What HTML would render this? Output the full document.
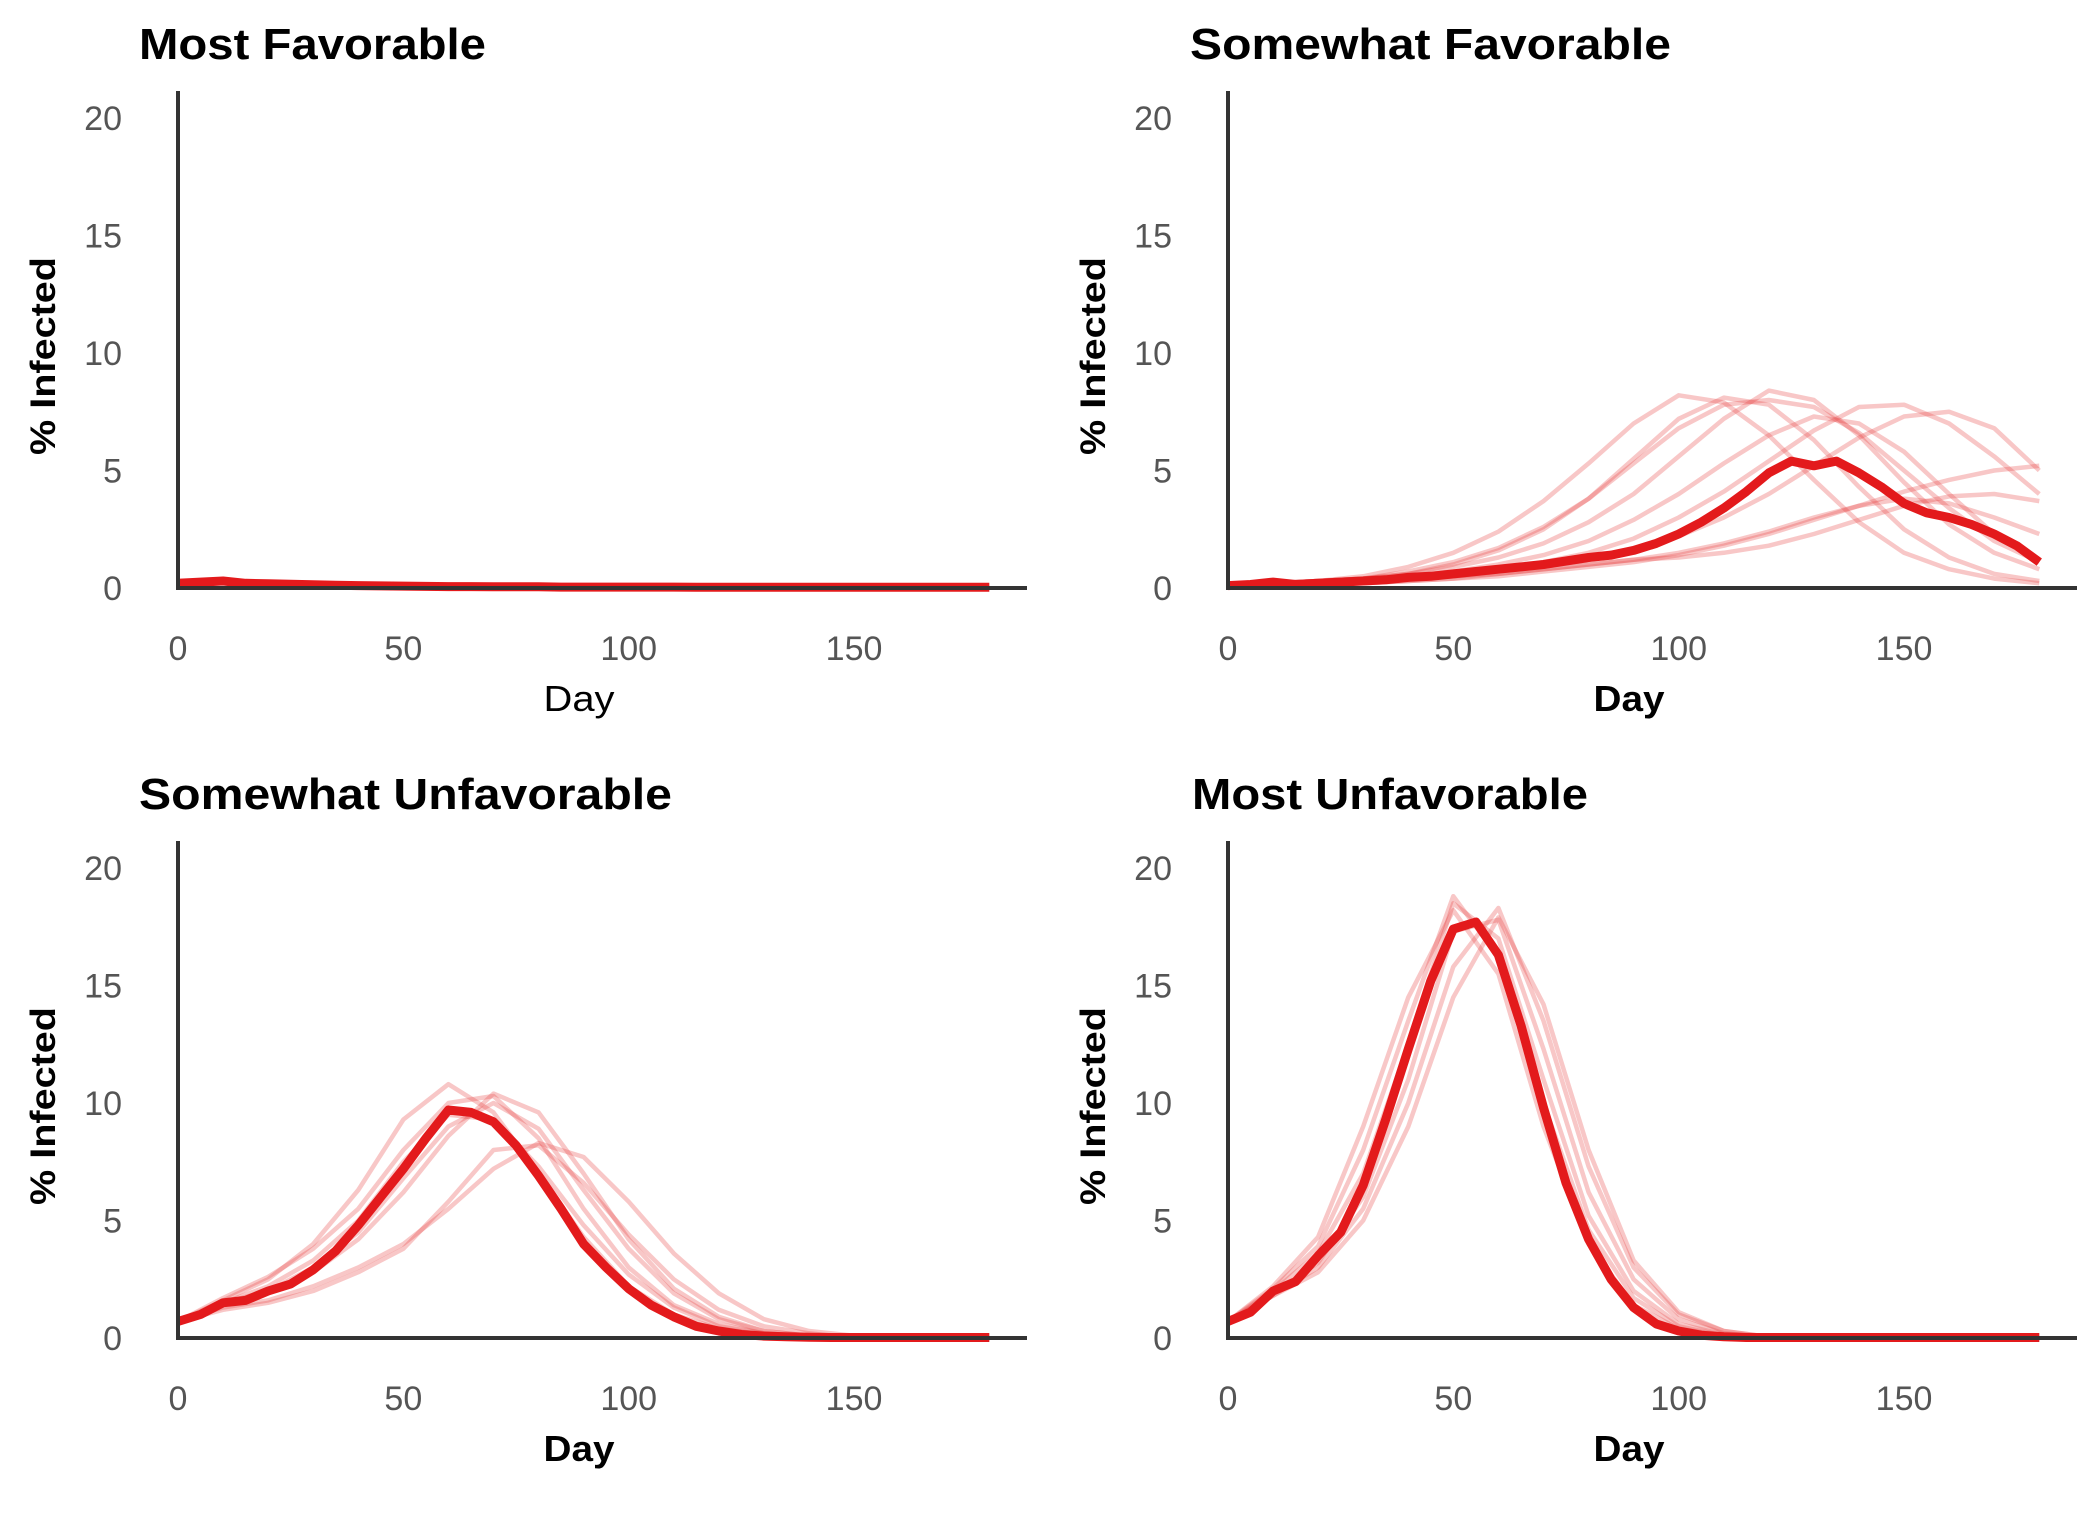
<!DOCTYPE html>
<html><head><meta charset="utf-8"><style>
html,body{margin:0;padding:0;background:#fff;}
svg{display:block;}
text{font-family:"Liberation Sans Narrow","Liberation Sans",sans-serif;}
</style></head>
<body>
<svg id="chart" width="2100" height="1520" viewBox="0 0 2100 1520" xmlns="http://www.w3.org/2000/svg"></svg>
<script>
// ---- data ----
const days5 = [0,5,10,15,20,25,30,35,40,45,50,55,60,65,70,75,80,85,90,95,100,105,110,115,120,125,130,135,140,145,150,155,160,165,170,175,180];
const days10 = [0,10,20,30,40,50,60,70,80,90,100,110,120,130,140,150,160,170,180];
const yTicks = [0,5,10,15,20];
const xTicks = [0,50,100,150];
const panelTitles = ["Most Favorable","Somewhat Favorable","Somewhat Unfavorable","Most Unfavorable"];

const meanMF = [0.2,0.25,0.3,0.2,0.18,0.16,0.14,0.12,0.1,0.09,0.08,0.07,0.06,0.06,0.05,0.05,0.05,0.04,0.04,0.04,0.04,0.04,0.04,0.03,0.03,0.03,0.03,0.03,0.03,0.03,0.03,0.03,0.03,0.03,0.03,0.03,0.03];
const runsMF = [
 [0.2,0.25,0.2,0.15,0.12,0.1,0.08,0.08,0.1,0.08,0.06,0.08,0.12,0.1,0.08,0.06,0.05,0.05,0.04],
 [0.2,0.3,0.22,0.15,0.1,0.08,0.06,0.05,0.04,0.05,0.06,0.05,0.04,0.04,0.03,0.03,0.03,0.03,0.03]
];
const meanSF = [0.1,0.15,0.25,0.15,0.2,0.25,0.3,0.35,0.45,0.5,0.6,0.7,0.8,0.9,1.0,1.15,1.3,1.4,1.6,1.9,2.3,2.8,3.4,4.1,4.9,5.4,5.2,5.4,4.9,4.3,3.6,3.2,3.0,2.7,2.3,1.8,1.1];
const runsSF = [
 [0.1,0.2,0.3,0.5,0.9,1.5,2.4,3.7,5.3,7.0,8.2,7.9,6.5,4.6,2.8,1.5,0.8,0.4,0.2],
 [0.1,0.2,0.3,0.4,0.6,0.9,1.3,1.9,2.8,4.0,5.6,7.2,8.4,8.0,6.5,4.5,2.7,1.5,0.8],
 [0.1,0.2,0.3,0.4,0.7,1.1,1.7,2.6,3.8,5.3,6.8,7.8,8.0,7.7,6.6,5.0,3.4,2.0,1.1],
 [0.1,0.2,0.2,0.3,0.4,0.6,0.8,1.1,1.5,2.1,3.0,4.1,5.4,6.7,7.7,7.8,7.0,5.6,4.0],
 [0.1,0.1,0.2,0.3,0.4,0.5,0.7,0.9,1.2,1.6,2.2,3.0,4.0,5.2,6.4,7.3,7.5,6.8,5.0],
 [0.1,0.1,0.2,0.2,0.3,0.4,0.5,0.7,0.9,1.1,1.4,1.8,2.3,2.9,3.5,4.1,4.6,5.0,5.2],
 [0.1,0.1,0.2,0.2,0.3,0.4,0.6,0.8,1.0,1.2,1.3,1.5,1.8,2.3,2.9,3.5,3.9,4.0,3.7],
 [0.1,0.2,0.3,0.4,0.6,1.0,1.6,2.5,3.8,5.5,7.2,8.1,7.8,6.3,4.3,2.5,1.3,0.6,0.3],
 [0.1,0.1,0.2,0.3,0.4,0.5,0.6,0.8,1.0,1.2,1.5,1.9,2.4,3.0,3.5,3.8,3.6,3.0,2.3],
 [0.1,0.2,0.3,0.4,0.5,0.7,1.0,1.4,2.0,2.9,4.0,5.3,6.5,7.3,7.0,5.8,4.0,2.3,1.2]
];
const meanSU = [0.7,1.0,1.5,1.6,2.0,2.3,2.9,3.7,4.8,6.0,7.2,8.5,9.7,9.6,9.2,8.2,6.9,5.5,4.0,3.0,2.1,1.4,0.9,0.5,0.3,0.15,0.08,0.05,0.03,0.02,0.02,0.02,0.02,0.02,0.02,0.02,0.02];
const runsSU = [
 [0.7,1.6,2.5,4.0,6.3,9.3,10.8,9.6,7.0,4.3,2.2,1.0,0.4,0.15,0.05,0,0,0,0],
 [0.7,1.5,2.0,3.0,4.5,6.8,9.0,10.0,8.9,6.3,3.8,1.9,0.8,0.3,0.1,0,0,0,0],
 [0.7,1.3,1.6,2.2,3.0,4.0,5.5,7.2,8.3,7.7,5.8,3.6,1.9,0.8,0.3,0.1,0,0,0],
 [0.7,1.2,1.5,2.0,2.8,3.8,5.8,8.0,8.2,6.6,4.4,2.5,1.2,0.5,0.2,0,0,0,0],
 [0.7,1.7,2.6,3.8,5.5,8.0,10.0,10.3,8.5,5.5,3.0,1.4,0.6,0.2,0.05,0,0,0,0],
 [0.7,1.5,2.2,3.3,5.0,7.5,9.5,9.3,7.3,4.8,2.7,1.3,0.5,0.2,0.05,0,0,0,0],
 [0.7,1.4,2.0,2.8,4.2,6.2,8.6,10.4,9.6,7.0,4.2,2.1,0.9,0.3,0.1,0,0,0,0]
];
const meanMU = [0.7,1.1,2.0,2.4,3.5,4.5,6.5,9.3,12.3,15.2,17.4,17.7,16.3,13.3,9.8,6.6,4.2,2.5,1.3,0.6,0.3,0.12,0.05,0.02,0.02,0.02,0.02,0.02,0.02,0.02,0.02,0.02,0.02,0.02,0.02,0.02,0.02];
const runsMU = [
 [0.7,2.2,4.3,9.0,14.5,18.2,15.5,9.0,4.0,1.4,0.4,0.1,0,0,0,0,0,0,0],
 [0.7,2.0,3.6,7.0,12.5,18.5,17.0,11.0,5.2,2.0,0.6,0.15,0.03,0,0,0,0,0,0],
 [0.7,1.8,3.0,5.5,10.0,15.8,18.3,13.5,7.3,3.0,1.0,0.3,0.05,0,0,0,0,0,0],
 [0.7,1.9,3.2,6.0,11.0,17.3,17.8,12.3,6.2,2.5,0.8,0.2,0.05,0,0,0,0,0,0],
 [0.7,2.1,3.9,8.0,13.5,18.8,16.2,10.0,4.6,1.7,0.5,0.1,0,0,0,0,0,0,0],
 [0.7,1.8,2.8,5.0,9.0,14.5,17.9,14.2,8.0,3.3,1.1,0.3,0.05,0,0,0,0,0,0]
];

// ---- layout ----
const NS = "http://www.w3.org/2000/svg";
const svg = document.getElementById('chart');
function mk(tag, attrs, parent){ const e=document.createElementNS(NS,tag); for(const k in attrs) e.setAttribute(k,attrs[k]); (parent||svg).appendChild(e); return e; }

const panels = [
 {ox:178, oy:588, title:panelTitles[0], tx:139, ty:59, tw:347, mean:meanMF, runs:runsMF, dayBold:false, key:'most-favorable'},
 {ox:1228, oy:588, title:panelTitles[1], tx:1190, ty:59, tw:481, mean:meanSF, runs:runsSF, dayBold:true, key:'somewhat-favorable'},
 {ox:178, oy:1338, title:panelTitles[2], tx:139, ty:809, tw:533, mean:meanSU, runs:runsSU, dayBold:true, key:'somewhat-unfavorable'},
 {ox:1228, oy:1338, title:panelTitles[3], tx:1192, ty:809, tw:396, mean:meanMU, runs:runsMU, dayBold:true, key:'most-unfavorable'}
];
const PX_PER_DAY = 4.507, PX_PER_PCT = 23.5;

panels.forEach(p=>{
  const g = mk('g',{});
  
  
  const xs = d => p.ox + d*PX_PER_DAY;
  const ys = v => p.oy - v*PX_PER_PCT;

  const t = mk('text',{x:p.tx,y:p.ty,'font-size':44,'font-weight':'bold',fill:'#000',textLength:p.tw,lengthAdjust:'spacingAndGlyphs'},g);
  t.textContent = p.title;
  
  

  yTicks.forEach(v=>{
    const l = mk('text',{x:p.ox-56,y:ys(v)+12,'font-size':34,fill:'#555','text-anchor':'end'},g);
    l.textContent = v;
    
    
  });
  xTicks.forEach(v=>{
    const l = mk('text',{x:xs(v),y:p.oy+72,'font-size':34,fill:'#555','text-anchor':'middle'},g);
    l.textContent = v;
    
    
  });
  const yt = mk('text',{x:0,y:0,'font-size':35,'font-weight':'bold',fill:'#000','text-anchor':'middle',transform:`translate(${p.ox-123},${p.oy-232}) rotate(-90)`,textLength:198,lengthAdjust:'spacingAndGlyphs'},g);
  yt.textContent = '% Infected';
  
  
  const xt = mk('text',{x:p.ox+401,y:p.oy+123,'font-size':36,'font-weight':p.dayBold?'bold':'normal',fill:'#000','text-anchor':'middle',textLength:71,lengthAdjust:'spacingAndGlyphs'},g);
  xt.textContent = 'Day';
  
  

  p.runs.forEach(r=>{
    const pts = r.map((v,i)=>xs(days10[i]).toFixed(1)+','+ys(v).toFixed(1)).join(' ');
    const pl = mk('polyline',{points:pts,fill:'none',stroke:'rgba(232,70,70,0.3)','stroke-width':4.5,'stroke-linejoin':'round'},g);
    
    
  });
  const mpts = p.mean.map((v,i)=>xs(days5[i]).toFixed(1)+','+ys(v).toFixed(1)).join(' ');
  const ml = mk('polyline',{points:mpts,fill:'none',stroke:'#e31a1c','stroke-width':9,'stroke-linejoin':'round'},g);
  
  

  const ya = mk('line',{x1:p.ox,y1:p.oy+2,x2:p.ox,y2:p.oy-497,stroke:'#333','stroke-width':4},g);
  
  
  const xa = mk('line',{x1:p.ox-2,y1:p.oy,x2:p.ox+849,y2:p.oy,stroke:'#333','stroke-width':4},g);
  
  
});
</script>
</body></html>
